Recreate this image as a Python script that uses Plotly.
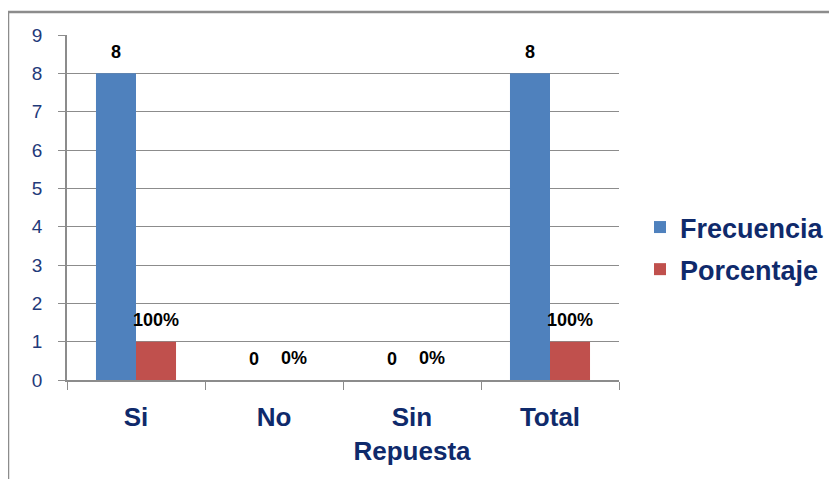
import plotly.graph_objects as go

categories = ["Si", "No", "Sin<br>Repuesta", "Total"]
frecuencia = [8, 0, 0, 8]
porcentaje = [1, 0, 0, 1]
frecuencia_labels = ["8", "0", "0", "8"]
porcentaje_labels = ["100%", "0%", "0%", "100%"]
y_ticks = [0, 1, 2, 3, 4, 5, 6, 7, 8, 9]

OFF = 8  # page body margin
W, H = 829, 471
# plot area in page pixels: x 67..619, y 35..380
L, R, T, B = 67 - OFF, W - (619 - OFF), 35 - OFF, H - (380 - OFF)
pw, ph = W - L - R, H - T - B

def px_x(p):
    return (p - OFF - L) / pw

def px_y(p):
    return (H - B - (p - OFF)) / ph

fig = go.Figure()
fig.add_trace(go.Bar(
    name="Frecuencia", x=categories, y=frecuencia, legendgroup="f",
    marker=dict(color="#4F81BD", line=dict(width=0)),
))
fig.add_trace(go.Bar(
    name="Porcentaje", x=categories, y=porcentaje, legendgroup="p",
    marker=dict(color="#C0504D", line=dict(width=0)),
))

annotations = []
for cat, v, lab in zip(categories, frecuencia, frecuencia_labels):
    annotations.append(dict(
        x=cat, y=v, xref="x", yref="y", text=lab, showarrow=False,
        xshift=-20, yshift=9, yanchor="bottom",
        font=dict(family="Liberation Sans", size=18, color="#000000", weight="bold"),
    ))
for cat, v, lab in zip(categories, porcentaje, porcentaje_labels):
    annotations.append(dict(
        x=cat, y=v, xref="x", yref="y", text=lab, showarrow=False,
        xshift=20, yshift=10, yanchor="bottom",
        font=dict(family="Liberation Sans", size=18, color="#000000", weight="bold"),
    ))

fig.update_layout(
    width=W, height=H,
    margin=dict(l=L, r=R, t=T, b=B, autoexpand=False),
    paper_bgcolor="white", plot_bgcolor="white",
    barmode="group", bargap=0.42, bargroupgap=0,
    font=dict(family="Liberation Sans"),
    legend=dict(
        x=px_x(640), y=px_y(203), xanchor="left", yanchor="top",
        font=dict(family="Liberation Sans", size=27, color="#0F2A6B", weight="bold"),
        bgcolor="rgba(0,0,0,0)", itemwidth=30, tracegroupgap=4,
    ),
    xaxis=dict(
        tickfont=dict(family="Liberation Sans", size=26, color="#0F2A6B", weight="bold"),
        showline=True, linecolor="#8C8C8C", linewidth=1.5,
        ticks="outside", tickson="boundaries", ticklen=8, tickcolor="#8C8C8C",
        showgrid=False, ticklabelstandoff=13,
    ),
    yaxis=dict(
        range=[0, 9], tickvals=y_ticks,
        tickfont=dict(family="Liberation Sans", size=19, color="#1F3A7A"),
        showline=True, linecolor="#8C8C8C", linewidth=1.5,
        ticks="outside", ticklen=7, tickcolor="#8C8C8C",
        showgrid=True, gridcolor="#8C8C8C", gridwidth=1.2,
        zeroline=False, ticklabelstandoff=12,
    ),
    annotations=annotations,
    shapes=[dict(
        type="rect", xref="paper", yref="paper",
        x0=px_x(8), x1=px_x(900), y0=px_y(560), y1=px_y(12),
        line=dict(color="#8C8C8C", width=2.5), fillcolor="rgba(0,0,0,0)",
        layer="below",
    )],
)

fig.write_html("out.html")
